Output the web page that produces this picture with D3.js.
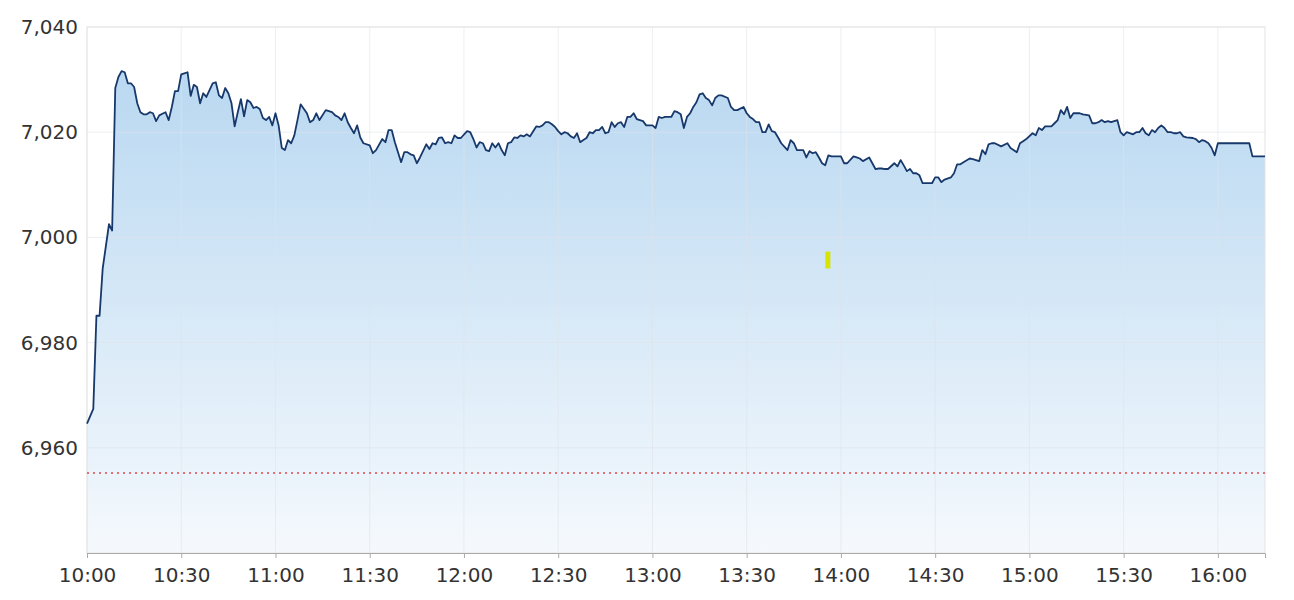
<!DOCTYPE html>
<html><head><meta charset="utf-8">
<script src="https://cdn.jsdelivr.net/npm/d3@7"></script>
<style>
html,body{margin:0;padding:0;background:#fff;}
svg{display:block;font-family:"DejaVu Sans",sans-serif;}
</style></head>
<body><svg id="chart" width="1294" height="600"></svg>
<script>
const times = [
"10:00","10:02","10:03","10:04","10:05","10:07","10:08","10:09","10:10","10:11","10:12","10:13","10:14","10:15","10:16","10:17","10:18","10:19","10:20","10:21","10:22","10:23","10:24","10:25","10:26","10:27","10:28","10:29","10:30","10:31","10:32","10:33","10:34","10:35","10:36","10:37","10:38","10:40","10:41","10:42","10:43","10:44","10:45","10:46","10:47","10:48","10:49","10:50","10:51","10:52","10:53","10:54","10:55","10:56","10:57","10:58","10:59",
"11:00","11:01","11:02","11:03","11:04","11:05","11:06","11:07","11:08","11:10","11:11","11:12","11:13","11:14","11:16","11:18","11:19","11:20","11:21","11:22","11:23","11:24","11:25","11:26","11:27","11:28","11:30","11:31","11:32","11:34","11:35","11:36","11:37","11:38","11:40","11:41","11:42","11:43","11:44","11:45","11:46","11:48","11:49","11:50","11:51","11:52","11:53","11:54","11:55","11:56","11:57","11:58","11:59",
"12:01","12:02","12:03","12:04","12:05","12:06","12:07","12:08","12:09","12:10","12:11","12:12","12:13","12:14","12:15","12:16","12:17","12:18","12:19","12:20","12:21","12:23","12:24","12:25","12:26","12:27","12:28","12:29","12:30","12:31","12:32","12:33","12:34","12:35","12:36","12:37","12:38","12:39","12:40","12:41","12:42","12:43","12:44","12:45","12:46","12:47","12:48","12:49","12:50","12:51","12:52","12:53","12:54","12:55","12:57","12:58",
"13:00","13:01","13:02","13:03","13:04","13:06","13:07","13:08","13:09","13:10","13:11","13:12","13:13","13:14","13:15","13:16","13:17","13:18","13:19","13:20","13:21","13:22","13:24","13:25","13:26","13:27","13:29","13:30","13:31","13:32","13:33","13:34","13:35","13:36","13:37","13:38","13:39","13:40","13:41","13:43","13:44","13:45","13:46","13:47","13:48","13:49","13:50","13:51","13:52","13:53","13:54","13:55","13:56","13:57",
"14:00","14:01","14:02","14:04","14:05","14:06","14:07","14:09","14:10","14:11","14:12","14:13","14:14","14:15","14:17","14:18","14:19","14:20","14:21","14:22","14:23","14:24","14:25","14:26","14:29","14:30","14:31","14:32","14:33","14:35","14:36","14:37","14:38","14:39","14:41","14:42","14:44","14:45","14:46","14:47","14:48","14:49","14:51","14:53","14:54","14:56","14:57","14:58","14:59",
"15:01","15:02","15:03","15:04","15:05","15:07","15:08","15:09","15:10","15:11","15:12","15:13","15:14","15:16","15:17","15:19","15:20","15:21","15:22","15:23","15:24","15:25","15:26","15:28","15:29","15:30","15:31","15:33","15:34","15:35","15:36","15:37","15:38","15:39","15:40","15:41","15:42","15:43","15:44","15:45","15:46","15:47","15:48","15:49","15:50","15:52","15:53","15:54","15:55","15:56","15:57","15:58","15:59",
"16:00","16:10","16:11","16:15"
];
const prices = [
6964.6,6967.4,6985.1,6985.1,6994.1,7002.5,7001.3,7028.4,7030.5,7031.6,7031.4,7029.3,7029.3,7028.6,7025.5,7023.8,7023.4,7023.4,7023.8,7023.6,7022.1,7023.2,7023.5,7023.8,7022.3,7024.8,7027.8,7027.8,7031.0,7031.2,7031.4,7026.9,7029.0,7028.6,7025.5,7027.4,7026.7,7029.3,7029.5,7027.0,7026.5,7028.4,7027.4,7025.5,7021.1,7023.8,7026.3,7023.0,7026.1,7025.7,7024.6,7024.8,7024.4,7022.7,7022.3,7022.9,7021.3,
7023.6,7021.3,7017.0,7016.6,7018.5,7017.9,7019.4,7022.3,7025.3,7023.6,7021.9,7022.3,7023.6,7022.3,7024.2,7023.8,7023.2,7022.9,7022.3,7023.6,7021.9,7020.8,7019.8,7021.3,7019.0,7017.9,7017.5,7016.0,7016.6,7018.7,7018.1,7020.4,7020.4,7018.1,7014.3,7016.2,7016.2,7015.8,7015.6,7014.1,7015.2,7017.7,7016.8,7017.9,7017.7,7018.9,7019.0,7017.9,7018.1,7017.9,7019.4,7018.9,7018.9,
7020.2,7020.0,7018.7,7017.1,7018.1,7017.9,7016.6,7016.4,7017.9,7017.1,7017.9,7016.6,7015.6,7017.9,7018.1,7019.0,7018.9,7019.4,7019.2,7019.6,7019.2,7021.1,7021.0,7021.3,7021.9,7021.9,7021.5,7021.0,7020.2,7019.6,7020.0,7019.8,7019.2,7018.9,7019.8,7018.1,7018.5,7018.9,7020.0,7019.8,7020.4,7020.4,7021.0,7019.8,7020.0,7021.9,7021.0,7021.7,7021.9,7021.0,7022.9,7022.9,7023.6,7022.5,7022.1,7021.3,
7021.3,7020.8,7022.9,7022.7,7022.9,7022.9,7024.0,7023.8,7023.4,7020.8,7022.9,7023.6,7024.8,7025.7,7027.2,7027.4,7026.5,7026.1,7025.1,7026.5,7027.0,7027.0,7026.5,7024.8,7024.2,7024.2,7024.8,7023.6,7022.9,7022.5,7021.9,7021.9,7020.0,7020.0,7021.5,7020.2,7020.0,7019.0,7017.9,7016.6,7018.5,7017.9,7016.6,7016.6,7016.6,7015.2,7016.4,7016.0,7016.2,7015.2,7014.1,7013.7,7015.6,7015.4,
7015.4,7014.1,7014.1,7015.4,7015.2,7015.0,7014.5,7015.2,7014.1,7013.0,7013.1,7013.1,7013.0,7013.0,7014.1,7013.5,7014.7,7013.7,7012.6,7013.0,7012.2,7012.2,7011.8,7010.3,7010.3,7011.4,7011.4,7010.5,7011.0,7011.4,7012.2,7013.9,7013.9,7014.3,7015.0,7014.9,7014.5,7016.6,7015.8,7017.7,7017.9,7017.9,7017.3,7017.9,7017.0,7016.2,7017.9,7018.3,7018.7,
7019.8,7019.4,7020.8,7020.4,7021.1,7021.1,7021.7,7022.3,7024.2,7023.4,7024.8,7022.7,7023.6,7023.6,7023.4,7023.2,7021.7,7021.7,7021.9,7022.3,7021.9,7022.1,7021.9,7022.3,7020.0,7019.4,7020.0,7019.6,7020.0,7020.0,7020.8,7019.8,7019.4,7020.4,7020.0,7020.8,7021.3,7020.8,7020.0,7020.0,7019.8,7019.8,7020.0,7019.2,7019.0,7018.9,7018.7,7018.1,7018.5,7018.3,7017.9,7017.0,7015.6,
7017.9,7017.9,7015.4,7015.4
];
const yTicks = [6960, 6980, 7000, 7020, 7040];
const xTickLabels = ["10:00","10:30","11:00","11:30","12:00","12:30","13:00","13:30","14:00","14:30","15:00","15:30","16:00"];
const timeDomain = ["10:00","16:15"];
const valueDomain = [6940, 7040];
const refLevel = 6955.2;
const markerTime = "13:56";
const markerRange = [6994.1, 6997.3];

const parse = d3.timeParse("%H:%M");
const data = times.map((t,i)=>({t:parse(t), v:prices[i]}));

const W=1294,H=600, m={l:87,r:29,t:27,b:47};
const iw=W-m.l-m.r, ih=H-m.t-m.b;
const svg=d3.select("#chart");
const x=d3.scaleTime().domain(timeDomain.map(parse)).range([0,iw]);
const y=d3.scaleLinear().domain(valueDomain).range([ih,0]);

const defs=svg.append("defs");
const grad=defs.append("linearGradient").attr("id","fillg").attr("x1",0).attr("y1",0).attr("x2",0).attr("y2",1);
grad.append("stop").attr("offset","0%").attr("stop-color","#b9d8f1");
grad.append("stop").attr("offset","100%").attr("stop-color","#f5f9fd");
defs.append("clipPath").attr("id","clip").append("rect").attr("width",iw).attr("height",ih);

const g=svg.append("g").attr("transform",`translate(${m.l},${m.t})`);

g.append("path").datum(data).attr("clip-path","url(#clip)")
 .attr("fill","url(#fillg)")
 .attr("d",d3.area().x(d=>x(d.t)).y0(ih).y1(d=>y(d.v)));

g.append("g").selectAll("line").data(yTicks).join("line")
 .attr("x1",0).attr("x2",iw).attr("y1",d=>y(d)).attr("y2",d=>y(d))
 .attr("stroke","#dfe3e8").attr("stroke-opacity",0.6).attr("stroke-width",1);
g.append("g").selectAll("line").data(xTickLabels.map(parse)).join("line")
 .attr("y1",0).attr("y2",ih).attr("x1",d=>x(d)).attr("x2",d=>x(d))
 .attr("stroke","#dfe3e8").attr("stroke-opacity",0.6).attr("stroke-width",1);

g.append("rect").attr("width",iw).attr("height",ih).attr("fill","none").attr("stroke","#e3e3e3");

g.append("line").attr("x1",0).attr("x2",iw).attr("y1",y(refLevel)).attr("y2",y(refLevel))
 .attr("stroke","#e0464c").attr("stroke-width",1.4).attr("stroke-dasharray","2,4");

g.append("path").datum(data).attr("fill","none").attr("stroke","#17386b").attr("stroke-width",1.8)
 .attr("stroke-linejoin","round")
 .attr("d",d3.line().x(d=>x(d.t)).y(d=>y(d.v)));

g.append("rect").attr("x",x(parse(markerTime))-3).attr("width",5)
 .attr("y",y(markerRange[1])).attr("height",y(markerRange[0])-y(markerRange[1]))
 .attr("fill","#d6e400");

const fmt=d3.format(",");
const ya=g.append("g").call(d3.axisLeft(y).tickValues(yTicks).tickFormat(fmt).tickSize(0).tickPadding(9));
ya.select(".domain").remove();
ya.selectAll("text").attr("font-size",20).attr("fill","#333").attr("font-family","'DejaVu Sans',sans-serif");

const xa=g.append("g").attr("transform",`translate(0,${ih})`)
 .call(d3.axisBottom(x).tickValues(xTickLabels.map(parse)).tickFormat(d3.timeFormat("%H:%M")).tickSize(5).tickPadding(10));
xa.select(".domain").attr("stroke","#aaa");
xa.selectAll(".tick line").attr("stroke","#aaa");
xa.selectAll("text").attr("font-size",20).attr("fill","#333").attr("font-family","'DejaVu Sans',sans-serif");
</script></body></html>
